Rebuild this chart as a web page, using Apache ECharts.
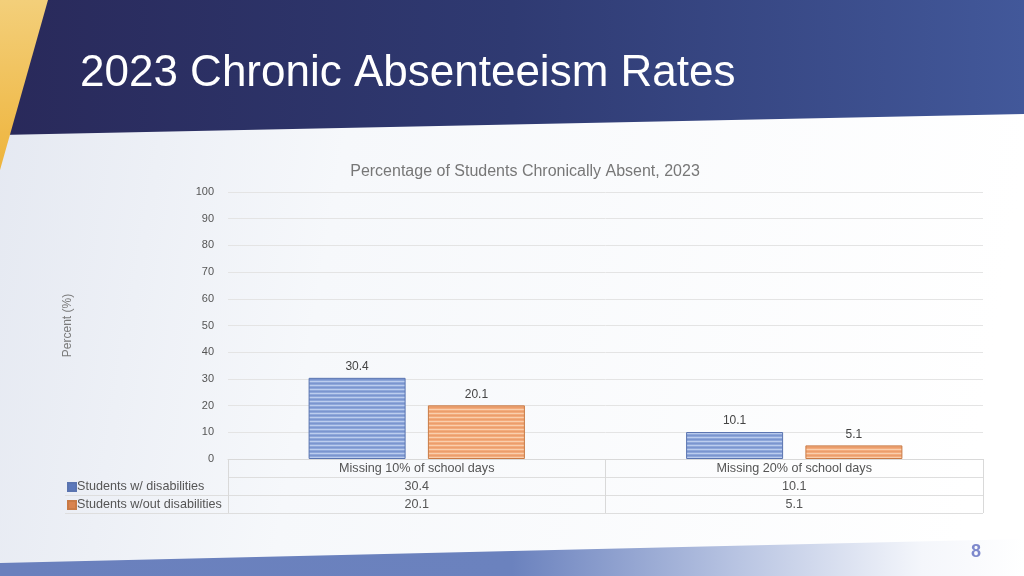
<!DOCTYPE html>
<html>
<head>
<meta charset="utf-8">
<script src="https://cdn.jsdelivr.net/npm/echarts@6/dist/echarts.min.js"></script>
<style>
html,body{margin:0;padding:0;background:#fff;}
#c{width:1024px;height:576px;}
</style>
</head>
<body>
<div id="c"></div>
<script>
const slideTitle = '2023 Chronic Absenteeism Rates';
const chartTitle = 'Percentage of Students Chronically Absent, 2023';
const yAxisName = 'Percent (%)';
const categories = ['Missing 10% of school days', 'Missing 20% of school days'];
const seriesNames = ['Students w/ disabilities', 'Students w/out disabilities'];
const withDisabilities = [30.4, 10.1];
const withoutDisabilities = [20.1, 5.1];
const pageNumber = '8';

function stripes(base, light, edge) {
  const c = document.createElement('canvas');
  c.width = 4; c.height = 4;
  const g = c.getContext('2d');
  g.fillStyle = base; g.fillRect(0, 0, 4, 4);
  g.fillStyle = light; g.fillRect(0, 1, 4, 1);
  g.fillStyle = edge; g.fillRect(0, 3, 4, 1);
  return {image: c, repeat: 'repeat'};
}
const bluePat = stripes('#8ea7da', '#bccdee', '#7b95cf');
const orangePat = stripes('#f3ab7c', '#f9cfad', '#eb9e6c');

const chart = echarts.init(document.getElementById('c'), null, {renderer: 'canvas'});
const FONT = '"Liberation Sans", Arial, sans-serif';

const option = {
  backgroundColor: {
    type: 'linear', x: 0, y: 0, x2: 1, y2: 0.3,
    colorStops: [{offset: 0, color: '#e4e8f1'}, {offset: 0.35, color: '#f6f8fb'}, {offset: 1, color: '#ffffff'}]
  },
  textStyle: {fontFamily: FONT},
  title: {
    text: chartTitle,
    left: 520, top: 159, textAlign: 'center',
    textStyle: {fontSize: 16, fontWeight: 'normal', color: '#777777', fontFamily: FONT}
  },
  legend: {
    orient: 'vertical', left: 67, top: 480, padding: 0, itemWidth: 8, itemHeight: 8, itemGap: 4,
    icon: 'rect',
    textStyle: {fontSize: 12.6, color: '#555555', padding: [0, 0, 0, -4], lineHeight: 14},
    data: [
      {name: seriesNames[0], itemStyle: {color: '#5b78bb'}},
      {name: seriesNames[1], itemStyle: {color: '#d9834e'}}
    ]
  },
  grid: {left: 228, right: 41, top: 192, bottom: 117, containLabel: false},
  xAxis: {
    type: 'category', data: categories,
    axisLine: {lineStyle: {color: '#d9d9d9'}},
    axisTick: {show: true, length: 54, lineStyle: {color: '#d9d9d9'}},
    axisLabel: {
      margin: 1, interval: 0,
      formatter: function (v, i) {
        return '{c|' + v + '}\n{v|' + withDisabilities[i] + '}\n{v|' + withoutDisabilities[i] + '}';
      },
      rich: {
        c: {fontSize: 12.6, color: '#555555', lineHeight: 18},
        v: {fontSize: 12.6, color: '#555555', lineHeight: 18}
      }
    }
  },
  yAxis: {
    type: 'value', min: 0, max: 100, interval: 10,
    name: yAxisName, nameLocation: 'middle', nameGap: 154, nameRotate: 90,
    nameTextStyle: {fontSize: 12, color: '#7a7a7a'},
    axisLine: {show: false}, axisTick: {show: false},
    axisLabel: {fontSize: 11, color: '#555555', margin: 14},
    splitLine: {lineStyle: {color: '#e4e4e4'}}
  },
  series: [
    {
      name: seriesNames[0], type: 'bar', data: withDisabilities,
      barWidth: 97, barGap: '23%',
      itemStyle: {color: bluePat, borderColor: '#5a74b0', borderWidth: 1},
      label: {show: true, position: 'top', distance: 5, fontSize: 12, color: '#444444'}
    },
    {
      name: seriesNames[1], type: 'bar', data: withoutDisabilities,
      barWidth: 97,
      itemStyle: {color: orangePat, borderColor: '#c97a45', borderWidth: 1},
      label: {show: true, position: 'top', distance: 5, fontSize: 12, color: '#444444'}
    }
  ],
  graphic: [
    {type: 'polygon', silent: true, z: -10,
      shape: {points: [[0, 0], [1024, 0], [1024, 114], [0, 135]]},
      style: {fill: {type: 'linear', x: 0, y: 0, x2: 1, y2: 0,
        colorStops: [{offset: 0, color: '#29295a'}, {offset: 0.5, color: '#2f3a72'}, {offset: 1, color: '#42589a'}]}}},
    {type: 'polygon', silent: true, z: -9,
      shape: {points: [[0, 0], [48, 0], [0, 170]]},
      style: {fill: {type: 'linear', x: 0, y: 0, x2: 0, y2: 1,
        colorStops: [{offset: 0, color: '#f3cf7a'}, {offset: 1, color: '#eeb43c'}]}}},
    {type: 'polygon', silent: true, z: -10,
      shape: {points: [[0, 563], [1024, 539], [1024, 576], [0, 576]]},
      style: {fill: {type: 'linear', x: 0, y: 0, x2: 1, y2: 0,
        colorStops: [{offset: 0, color: '#6a80bd'}, {offset: 0.5, color: '#6b82be'}, {offset: 0.72, color: '#b8c4e2'}, {offset: 0.9, color: '#f4f6fb'}, {offset: 1, color: '#ffffff'}]}}},
    {type: 'text', silent: true, left: 80, top: 52,
      style: {text: slideTitle, fill: '#ffffff', font: '44px ' + FONT}},
    {type: 'text', silent: true, left: 971, top: 543,
      style: {text: pageNumber, fill: '#7d88cc', font: 'bold 18px ' + FONT}},
    {type: 'line', silent: true, shape: {x1: 228, y1: 477.5, x2: 983, y2: 477.5}, style: {stroke: '#dedede', lineWidth: 1}},
    {type: 'line', silent: true, shape: {x1: 65, y1: 495.5, x2: 983, y2: 495.5}, style: {stroke: '#dedede', lineWidth: 1}},
    {type: 'line', silent: true, shape: {x1: 65, y1: 513.5, x2: 983, y2: 513.5}, style: {stroke: '#dedede', lineWidth: 1}}
  ]
};
chart.setOption(option);
</script>
</body>
</html>
